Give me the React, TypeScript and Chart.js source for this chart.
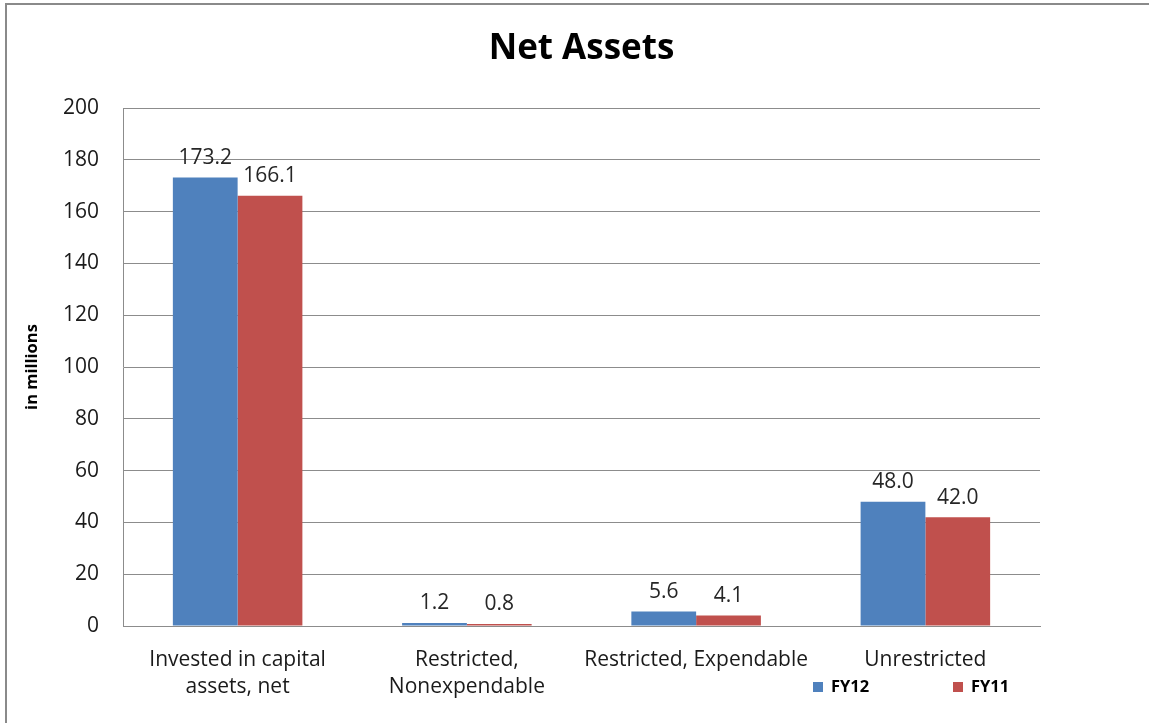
import React, { useEffect, useRef } from "react";
import { Chart, registerables } from "chart.js";

Chart.register(...registerables);

const categories: (string | string[])[] = [
  ["Invested in capital", "assets, net"],
  ["Restricted,", "Nonexpendable"],
  "Restricted, Expendable",
  "Unrestricted",
];
const seriesNames = ["FY12", "FY11"];
const fy12Values = [173.2, 1.2, 5.6, 48.0];
const fy11Values = [166.1, 0.8, 4.1, 42.0];
const seriesColors = ["#4F81BD", "#C0504D"];
const yMin = 0;
const yMax = 200;
const yStep = 20;

const FONT = "'Open Sans', 'Liberation Sans', sans-serif";

const dataLabelPlugin = {
  id: "dataLabels",
  afterDatasetsDraw(chart: any) {
    const ctx = chart.ctx;
    ctx.save();
    ctx.font = `21px ${FONT}`;
    ctx.fillStyle = "#262626";
    ctx.textAlign = "center";
    ctx.textBaseline = "middle";
    chart.data.datasets.forEach((ds: any, di: number) => {
      const meta = chart.getDatasetMeta(di);
      meta.data.forEach((el: any, i: number) => {
        const v = ds.data[i] as number;
        ctx.fillText(v.toFixed(1), el.x, el.y - 19.5);
      });
    });
    ctx.restore();
  },
};

const customLegendPlugin = {
  id: "customLegend",
  afterDraw(chart: any) {
    const ctx = chart.ctx;
    const xs = [813, 953];
    const yc = 687;
    ctx.save();
    ctx.font = `bold 16.5px ${FONT}`;
    ctx.textBaseline = "middle";
    ctx.textAlign = "left";
    chart.data.datasets.forEach((ds: any, i: number) => {
      ctx.fillStyle = ds.backgroundColor;
      ctx.fillRect(xs[i], yc - 5, 10, 10);
      ctx.fillStyle = "#000";
      ctx.fillText(ds.label, xs[i] + 18, yc);
    });
    ctx.restore();
  },
};

export default function App() {
  const canvasRef = useRef<HTMLCanvasElement | null>(null);

  useEffect(() => {
    if (!canvasRef.current) return;
    const chart = new Chart(canvasRef.current, {
      type: "bar",
      data: {
        labels: categories,
        datasets: [
          {
            label: seriesNames[0],
            data: fy12Values,
            backgroundColor: seriesColors[0],
            categoryPercentage: 0.565,
            barPercentage: 1.0,
          },
          {
            label: seriesNames[1],
            data: fy11Values,
            backgroundColor: seriesColors[1],
            categoryPercentage: 0.565,
            barPercentage: 1.0,
          },
        ],
      },
      options: {
        responsive: false,
        animation: false,
        devicePixelRatio: 1,
        layout: { padding: { top: 28, left: 22, right: 109, bottom: 22 } },
        plugins: {
          legend: { display: false },
          tooltip: { enabled: false },
          title: {
            display: true,
            fullSize: false,
            text: "Net Assets",
            color: "#000",
            font: { family: FONT, size: 35, weight: "bold" },
            padding: { top: 0, bottom: 38 },
          },
        },
        scales: {
          x: {
            grid: { display: false, drawTicks: false },
            border: { display: true, color: "#8c8c8c", width: 1 },
            ticks: {
              color: "#1a1a1a",
              font: { family: FONT, size: 21, lineHeight: 1.286 },
              padding: 21,
              maxRotation: 0,
              autoSkip: false,
            },
            afterFit: (scale: any) => {
              scale.height = 75;
            },
          },
          y: {
            min: yMin,
            max: yMax,
            grid: { color: "#8c8c8c", lineWidth: 1, drawTicks: false },
            border: { display: true, color: "#8c8c8c", width: 1 },
            ticks: {
              stepSize: yStep,
              color: "#1a1a1a",
              font: { family: FONT, size: 21 },
              padding: 24,
            },
            title: {
              display: true,
              text: "in millions",
              color: "#000",
              font: { family: FONT, size: 16.5, weight: "bold" },
              padding: { top: 0, bottom: 0 },
            },
            afterFit: (scale: any) => {
              scale.width = 101;
            },
          },
        },
      },
      plugins: [dataLabelPlugin, customLegendPlugin],
    });
    return () => chart.destroy();
  }, []);

  return (
    <div
      style={{
        position: "fixed",
        left: 0,
        top: 0,
        width: 1149,
        height: 723,
        background: "#fff",
        overflow: "hidden",
      }}
    >
      <div
        style={{
          position: "absolute",
          left: 5,
          top: 3,
          width: 1400,
          height: 1000,
          border: "2px solid #8a8a8a",
          boxSizing: "border-box",
        }}
      />
      <canvas
        ref={canvasRef}
        width={1149}
        height={723}
        style={{ position: "absolute", left: 0, top: 0, width: 1149, height: 723 }}
      />
    </div>
  );
}
